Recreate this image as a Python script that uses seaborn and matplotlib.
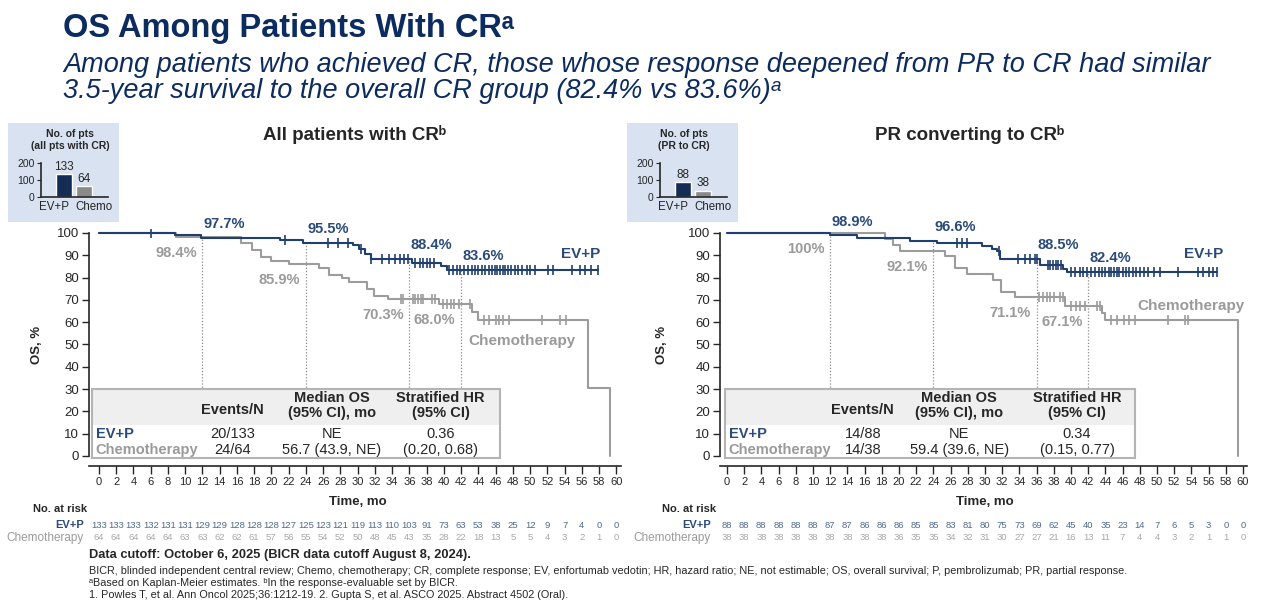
import matplotlib
matplotlib.use('Agg')
import matplotlib.pyplot as plt
import matplotlib.transforms as mtransforms
from matplotlib.patches import Rectangle
import numpy as np
import pandas as pd
import seaborn as sns

# ---------------- data ----------------
groups = ['EV+P', 'Chemo']
n_all_cr = [133, 64]
n_pr_cr = [88, 38]

month_ticks = list(range(0, 61, 2))
os_ticks = list(range(0, 101, 10))
landmarks = [12, 24, 36, 42]

# all patients with CR: step times (mo) and OS (%) after each step, censor times
all_ev_t = [0, 8.8, 11.8, 21.0, 23.7, 29.5, 30.1, 30.8, 31.5, 36.3, 39.7, 40.3]
all_ev_s = [100, 98.9, 97.7, 96.9, 95.5, 94.4, 92.7, 90.6, 88.4, 86.5, 85.0, 83.6]
all_ev_cens = [6.0, 21.6, 26.6, 27.7, 28.9, 30.4, 31.6, 32.8, 33.6, 34.3, 34.9, 35.4, 35.8,
               36.6, 37.2, 37.6, 38.0, 38.4, 38.9, 40.6, 41.0, 41.5, 41.9, 42.3, 42.8, 43.2,
               43.6, 44.0, 44.4, 44.8, 45.2, 45.6, 45.9, 46.2, 46.5, 46.8, 47.1, 47.4, 47.8,
               48.2, 48.6, 49.1, 49.6, 50.0, 50.6, 52.1, 52.7, 54.8, 55.8, 56.4, 57.0, 57.9]
all_ch_t = [0, 8.9, 16.5, 17.8, 18.8, 20.0, 22.0, 25.5, 26.7, 28.2, 29.0, 31.1, 31.9, 33.5,
            39.4, 43.3, 44.0, 56.7, 59.3]
all_ch_s = [100, 98.4, 95.3, 92.2, 89.1, 87.5, 85.9, 84.3, 81.2, 79.6, 78.0, 75.0, 71.9, 70.3,
            68.0, 64.7, 61.0, 30.5, 0]
all_ch_cens = [35.0, 35.3, 36.4, 36.7, 37.0, 37.3, 37.6, 38.6, 39.0, 39.9, 40.4, 40.8, 41.2,
               41.7, 43.0, 44.6, 45.2, 46.0, 46.4, 46.8, 47.5, 51.4, 53.5, 54.1]
all_ev_lm = [97.7, 95.5, 88.4, 83.6]
all_ch_lm = [98.4, 85.9, 70.3, 68.0]

# PR converting to CR
pr_ev_t = [0, 12.0, 15.1, 21.3, 24.4, 29.6, 30.8, 31.4, 31.7, 36.4, 39.1, 39.5]
pr_ev_s = [100, 98.9, 97.7, 96.6, 95.4, 94.2, 93.0, 91.7, 88.5, 85.6, 83.7, 82.4]
pr_ev_cens = [26.7, 27.3, 27.9, 31.6, 33.8, 34.7, 35.2, 35.8, 36.0, 37.3, 37.6, 37.9, 38.2,
              38.5, 38.8, 40.0, 40.5, 41.0, 41.4, 41.9, 42.3, 42.8, 43.2, 43.6, 44.0, 44.4,
              44.7, 45.0, 45.3, 45.6, 46.0, 46.4, 46.8, 47.2, 47.6, 48.0, 48.5, 49.0, 49.6,
              50.3, 52.4, 54.8, 55.4, 56.0, 56.5, 57.0]
pr_ch_t = [0, 18.4, 19.3, 20.1, 25.3, 26.5, 27.9, 30.9, 31.9, 33.5, 39.3, 43.6, 44.0, 59.4]
pr_ch_s = [100, 97.4, 94.7, 92.1, 89.5, 84.2, 81.6, 78.9, 73.7, 71.1, 67.1, 64.0, 61.0, 0]
pr_ch_cens = [36.3, 36.8, 37.2, 37.6, 38.0, 38.7, 39.1, 40.0, 40.6, 41.0, 41.6, 43.0, 43.4,
              44.6, 45.3, 46.2, 46.7, 47.4, 51.3, 53.3, 53.6]
pr_ev_lm = [98.9, 96.6, 88.5, 82.4]
pr_ch_lm = [100, 92.1, 71.1, 67.1]

# number at risk every 2 months
all_ev_risk = [133, 133, 133, 132, 131, 131, 129, 129, 128, 128, 128, 127, 125, 123, 121, 119,
               113, 110, 103, 91, 73, 63, 53, 38, 25, 12, 9, 7, 4, 0, 0]
all_ch_risk = [64, 64, 64, 64, 64, 63, 63, 62, 62, 61, 57, 56, 55, 54, 52, 50, 48, 45, 43, 35,
               28, 22, 18, 13, 5, 5, 4, 3, 2, 1, 0]
pr_ev_risk = [88, 88, 88, 88, 88, 88, 87, 87, 86, 86, 86, 85, 85, 83, 81, 80, 75, 73, 69, 62,
              45, 40, 35, 23, 14, 7, 6, 5, 3, 0, 0]
pr_ch_risk = [38, 38, 38, 38, 38, 38, 38, 38, 38, 38, 36, 35, 35, 34, 32, 31, 30, 27, 27, 21,
              16, 13, 11, 7, 4, 4, 3, 2, 1, 1, 0]

# summary tables: events/N, median OS, stratified HR
all_ev_row = ['20/133', 'NE', '0.36']
all_ch_row = ['24/64', '56.7 (43.9, NE)', '(0.20, 0.68)']
pr_ev_row = ['14/88', 'NE', '0.34']
pr_ch_row = ['14/38', '59.4 (39.6, NE)', '(0.15, 0.77)']

# ---------------- style ----------------
W, H = 1267, 602
NAVY = '#0c2b5e'
EV_LINE = '#213f6e'
EV_TEXT = '#2a4a7a'
CH_LINE = '#9c9c9c'
CH_TEXT = '#9a9a9a'
BAR_NAVY = '#0b2a5e'
BAR_GRAY = '#8a8a8a'
BOX_BLUE = '#d9e2f1'

sns.set_style('ticks')
plt.rcParams['font.family'] = ['Liberation Sans', 'DejaVu Sans']
plt.rcParams['axes.linewidth'] = 1.2

fig = plt.figure(figsize=(W / 100, H / 100), dpi=100)


def fx(px):
    return px / W


def fy(py):
    return 1 - py / H


def km_frame(t, s, cens):
    end = max(t[-1], max(cens))
    return pd.DataFrame({'month': list(t) + [end], 'os': list(s) + [s[-1]]})


def surv_at(t, s, x):
    idx = np.searchsorted(np.asarray(t), np.asarray(x), side='right') - 1
    return np.asarray(s)[idx]


def draw_curve(ax, t, s, cens, color):
    sns.lineplot(data=km_frame(t, s, cens), x='month', y='os', drawstyle='steps-post',
                 color=color, linewidth=1.5, estimator=None, ax=ax, zorder=3)
    sns.scatterplot(x=cens, y=surv_at(t, s, cens), marker='|', s=45, color=color,
                    linewidth=1.2, ax=ax, zorder=4, legend=False)


def fmt(v):
    return '100%' if v == 100 else f'{v:.1f}%'


def draw_inset(axis_px, counts, caption, cap_x):
    fig.patches.append(Rectangle((fx(axis_px - 33), fy(222)), 111 / W, 99 / H,
                                 transform=fig.transFigure, facecolor=BOX_BLUE,
                                 edgecolor='none', zorder=-1))
    fig.text(fx(cap_x), fy(134), 'No. of pts', ha='center', va='center', fontsize=7.5,
             weight='bold')
    fig.text(fx(cap_x), fy(146), caption, ha='center', va='center', fontsize=7.5,
             weight='bold')
    axi = fig.add_axes([fx(axis_px), fy(197), 67 / W, 34 / H])
    axi.set_facecolor('none')
    df = pd.DataFrame({'group': groups, 'n': counts})
    sns.barplot(data=df, x='group', y='n', hue='group', palette=[BAR_NAVY, BAR_GRAY],
                width=0.8, ax=axi, legend=False)
    for c in axi.containers:
        axi.bar_label(c, fontsize=8.5, padding=1)
    axi.set_xlim(-1.15, 2.2)
    axi.set_ylim(0, 200)
    axi.set_yticks([0, 100, 200])
    # category names sit a little apart from the bar centres on the slide
    axi.set_xticks([-0.5, 1.5], groups)
    axi.set_xlabel('')
    axi.set_ylabel('')
    axi.tick_params(axis='x', length=0, labelsize=8.3, pad=3)
    axi.tick_params(axis='y', length=3, labelsize=7.5, pad=1.5)
    axi.spines[['top', 'right']].set_visible(False)


def draw_panel(ax, x0, ev, ch, ev_lm, ch_lm, ev_risk, ch_risk, ev_row, ch_row,
               table_x, cols_x, ev_lab, ch_lab, risk_head_px, risk_lab_px, ylab_px):
    xmin, xmax = x0, 60.5
    draw_curve(ax, *ch, CH_LINE)
    draw_curve(ax, *ev, EV_LINE)

    tops = [max(a, b) for a, b in zip(ev_lm, ch_lm)]
    ax.vlines(landmarks, 0, tops, linestyles=(0, (1, 1.5)), colors='#8c8c8c',
              linewidth=0.9, zorder=1)
    for m, v in zip(landmarks, ev_lm):
        ax.annotate(fmt(v), (m, v), xytext=(1, 10), textcoords='offset points',
                    ha='left', va='center', color=EV_TEXT, fontsize=10.5, weight='bold')
    for m, v in zip(landmarks, ch_lm):
        ax.annotate(fmt(v), (m, v), xytext=(-4, -11.5), textcoords='offset points',
                    ha='right', va='center', color=CH_TEXT, fontsize=10.5, weight='bold')
    ax.text(ev_lab[0], ev_lab[1], 'EV+P', ha='center', va='center', color=EV_TEXT,
            fontsize=11, weight='bold')
    ax.text(ch_lab[0], ch_lab[1], 'Chemotherapy', ha='center', va='center', color=CH_TEXT,
            fontsize=11, weight='bold')

    # summary table
    tx0, tx1 = table_x
    ax.add_patch(Rectangle((tx0, -1), tx1 - tx0, 31, facecolor='white', edgecolor='none',
                           zorder=6, clip_on=False))
    ax.add_patch(Rectangle((tx0, 14), tx1 - tx0, 16, facecolor='#efefef', edgecolor='none',
                           zorder=6.1, clip_on=False))
    ax.add_patch(Rectangle((tx0, -1), tx1 - tx0, 31, facecolor='none', edgecolor='#b4b4b4',
                           linewidth=1.5, zorder=6.2, clip_on=False))
    hk = dict(ha='center', va='center', fontsize=10.5, weight='bold', zorder=7)
    ax.text(cols_x[0], 20.8, 'Events/N', **hk)
    ax.text(cols_x[1], 25.8, 'Median OS', **hk)
    ax.text(cols_x[1], 19.2, '(95% CI), mo', **hk)
    ax.text(cols_x[2], 25.8, 'Stratified HR', **hk)
    ax.text(cols_x[2], 19.2, '(95% CI)', **hk)
    ax.text(tx0 + 0.4, 10, 'EV+P', ha='left', va='center', fontsize=10.5, weight='bold',
            color=EV_TEXT, zorder=7)
    ax.text(tx0 + 0.4, 2.6, 'Chemotherapy', ha='left', va='center', fontsize=10.5,
            weight='bold', color=CH_TEXT, zorder=7)
    for cx, a, b in zip(cols_x, ev_row, ch_row):
        ax.text(cx, 10, a, ha='center', va='center', fontsize=10.5, zorder=7)
        ax.text(cx, 2.6, b, ha='center', va='center', fontsize=10.5, zorder=7)

    # axes
    ax.set_xlim(xmin, xmax)
    ax.set_ylim(-4.5, 102)
    ax.set_xticks(month_ticks)
    ax.set_yticks(os_ticks)
    ax.tick_params(axis='x', labelsize=8, length=6, width=1, pad=2)
    ax.tick_params(axis='y', labelsize=9.5, length=5, width=1, pad=2)
    ax.spines[['top', 'right']].set_visible(False)
    ax.spines['left'].set_bounds(0, 100)
    ax.set_xlabel('Time, mo', fontsize=9.5, weight='bold')
    ax.xaxis.set_label_coords((30 - xmin) / (xmax - xmin), -0.125)
    ax.set_ylabel('OS, %', fontsize=9.5, weight='bold')
    left_px = ax.get_position().x0 * W
    width_px = ax.get_position().width * W
    ax.yaxis.set_label_coords((ylab_px + 6 - left_px) / width_px, 0.51)

    # number at risk
    blend = mtransforms.blended_transform_factory(ax.transData, fig.transFigure)
    fig.text(fx(risk_head_px), fy(509), 'No. at risk', ha='left', va='center', fontsize=8,
             weight='bold')
    fig.text(fx(risk_lab_px), fy(525), 'EV+P', ha='right', va='center', fontsize=8,
             weight='bold', color=EV_TEXT)
    fig.text(fx(risk_lab_px), fy(538), 'Chemotherapy', ha='right', va='center', fontsize=8.5,
             color=CH_TEXT)
    for m, a, b in zip(month_ticks, ev_risk, ch_risk):
        ax.text(m, fy(525), str(a), transform=blend, ha='center', va='center', fontsize=6.8,
                color='#4e6a92')
        ax.text(m, fy(538), str(b), transform=blend, ha='center', va='center', fontsize=6.8,
                color='#a8a8a8')


# ---------------- titles ----------------
fig.text(fx(63), fy(29), 'OS Among Patients With CRᵃ', fontsize=23.5, weight='bold',
         color=NAVY, va='center')
fig.text(fx(63), fy(65), 'Among patients who achieved CR, those whose response deepened '
         'from PR to CR had similar', fontsize=19.5, style='italic', color=NAVY, va='center')
fig.text(fx(63), fy(91), '3.5-year survival to the overall CR group (82.4% vs 83.6%)ᵃ',
         fontsize=19.5, style='italic', color=NAVY, va='center')
fig.text(fx(355), fy(135), 'All patients with CRᵇ', ha='center', va='center', fontsize=13.5,
         weight='bold')
fig.text(fx(970), fy(135), 'PR converting to CRᵇ', ha='center', va='center', fontsize=13.5,
         weight='bold')

# ---------------- panels ----------------
ax1 = fig.add_axes([fx(89), fy(466), (620.7 - 89) / W, 237.5 / H])
draw_panel(ax1, -1.16, (all_ev_t, all_ev_s, all_ev_cens), (all_ch_t, all_ch_s, all_ch_cens),
           all_ev_lm, all_ch_lm, all_ev_risk, all_ch_risk, all_ev_row, all_ch_row,
           (-0.8, 46.5), (15.5, 27, 39.6), (55.8, 90.6), (49.0, 51.6), 33, 84, 37)

ax2 = fig.add_axes([fx(720), fy(466), (1247.3 - 720) / W, 237.5 / H])
draw_panel(ax2, -0.81, (pr_ev_t, pr_ev_s, pr_ev_cens), (pr_ch_t, pr_ch_s, pr_ch_cens),
           pr_ev_lm, pr_ch_lm, pr_ev_risk, pr_ch_risk, pr_ev_row, pr_ch_row,
           (-0.2, 47.4), (15.8, 27, 40.7), (55.4, 90.6), (53.9, 67.3), 662, 711, 662)

draw_inset(41, n_all_cr, '(all pts with CR)', 70)
draw_inset(660, n_pr_cr, '(PR to CR)', 684)

# ---------------- footnotes ----------------
fig.text(fx(89), fy(555), 'Data cutoff: October 6, 2025 (BICR data cutoff August 8, 2024).',
         fontsize=9.3, weight='bold', va='center')
fig.text(fx(89), fy(571), 'BICR, blinded independent central review; Chemo, chemotherapy; '
         'CR, complete response; EV, enfortumab vedotin; HR, hazard ratio; NE, not estimable; '
         'OS, overall survival; P, pembrolizumab; PR, partial response.', fontsize=7.8,
         va='center')
fig.text(fx(89), fy(583), 'ᵃBased on Kaplan-Meier estimates. ᵇIn the response-evaluable set '
         'by BICR.', fontsize=7.8, va='center')
fig.text(fx(89), fy(595), '1. Powles T, et al. Ann Oncol 2025;36:1212-19. 2. Gupta S, et al. '
         'ASCO 2025. Abstract 4502 (Oral).', fontsize=7.8, va='center')

fig.savefig('out.png', dpi=100)
